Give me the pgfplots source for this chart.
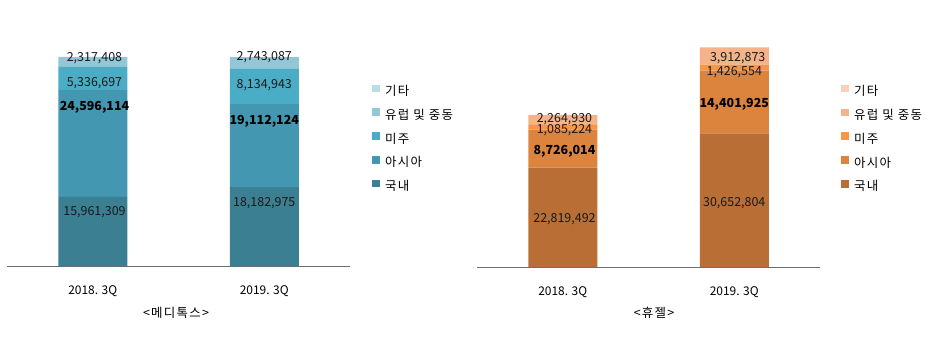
\documentclass[border=0pt]{standalone}
\usepackage{pgfplots}
\pgfplotsset{compat=1.18}
\usepackage{fontspec}
\setmainfont{Noto Sans CJK KR}
\newfontfamily\wide{Noto Sans CJK KR}[LetterSpace=10]
\definecolor{a1}{HTML}{3A7F92}
\definecolor{a2}{HTML}{4397B0}
\definecolor{a3}{HTML}{4BACC6}
\definecolor{a4}{HTML}{93C6D6}
\definecolor{a5}{HTML}{B7DDE8}
\definecolor{b1}{HTML}{B86E34}
\definecolor{b2}{HTML}{DC843E}
\definecolor{b3}{HTML}{F79646}
\definecolor{b4}{HTML}{F5B38A}
\definecolor{b5}{HTML}{FAD0BC}
\pgfplotsset{
  panel/.style={
    clip=false,
    scale only axis, width=343bp,
    ybar stacked, bar width=69bp,
    ymin=0, ymax=54.4e6, xmin=-0.5, xmax=1.5,
    enlargelimits=false,
    axis x line=bottom, axis y line=none,
    x axis line style={-, draw=gray!85!black, line width=0.8pt},
    xtick={0,1}, xticklabels={2018. 3Q, 2019. 3Q},
    major tick length=0pt, ytick=\empty,
    xticklabel style={font=\fontsize{12}{14}\selectfont, anchor=center, yshift=-25bp},
    reverse legend,
    legend cell align=left,
    legend image code/.code={\fill[##1] (0bp,-1bp) rectangle (7.5bp,6.5bp); \path (11bp,0bp);},
    legend style={draw=none, fill=none, inner sep=0pt, anchor=north west,
      font=\fontsize{12.5}{14}\selectfont\wide, row sep=8bp},
  },
}
\tikzset{lab/.style={font=\fontsize{12.5}{14}\selectfont, text=black!90},
  blab/.style={font=\fontsize{12.5}{14}\selectfont\bfseries, text=black}}
\begin{document}
\begin{tikzpicture}[x=1bp,y=1bp]
\useasboundingbox (0,0) rectangle (939,337);
% ---------- left panel
\begin{axis}[panel, at={(7bp,71bp)}, anchor=south west, height=236bp,
  legend style={at={(1.064,0.775)}},
  after end axis/.code={
    \node[lab] at (axis cs:0.01,47.93e6) {2,317,408};
    \node[lab] at (axis cs:0.01,42.17e6) {5,336,697};
    \node[blab] at (axis cs:0.01,36.64e6) {24,596,114};
    \node[lab] at (axis cs:0.01,12.44e6) {15,961,309};
    \node[lab] at (axis cs:1,48.16e6) {2,743,087};
    \node[lab] at (axis cs:1,41.71e6) {8,134,943};
    \node[blab] at (axis cs:1,33.41e6) {19,112,124};
    \node[lab] at (axis cs:1,14.52e6) {18,182,975};
  }]
\addplot[fill=a1, draw=none] coordinates {(0,15961309) (1,18182975)};
\addplot[fill=a2, draw=none] coordinates {(0,24596114) (1,19112124)};
\addplot[fill=a3, draw=none] coordinates {(0,5336697) (1,8134943)};
\addplot[fill=a4, draw=none] coordinates {(0,2317408) (1,2743087)};
\addplot[fill=a5, draw=none] coordinates {(0,0) (1,0)};
\legend{국내,아시아,미주,유럽 및 중동,기타}
\end{axis}
% ---------- right panel
\begin{axis}[panel, at={(477bp,70bp)}, anchor=south west, height=237bp,
  legend style={at={(1.061,0.775)}},
  after end axis/.code={
    \node[lab] at (axis cs:0.01,34.02e6) {2,264,930};
    \node[lab] at (axis cs:0.01,31.49e6) {1,085,224};
    \node[blab] at (axis cs:0.01,26.67e6) {8,726,014};
    \node[lab] at (axis cs:0.01,11.03e6) {22,819,492};
    \node[lab] at (axis cs:1.02,48.05e6) {3,912,873};
    \node[lab] at (axis cs:1.0,44.83e6) {1,426,554};
    \node[blab] at (axis cs:1,37.24e6) {14,401,925};
    \node[lab] at (axis cs:1,14.71e6) {30,652,804};
  }]
\addplot[fill=b1, draw=none] coordinates {(0,22819492) (1,30652804)};
\addplot[fill=b2, draw=none] coordinates {(0,8726014) (1,14401925)};
\addplot[fill=b3, draw=none] coordinates {(0,1085224) (1,1426554)};
\addplot[fill=b4, draw=none] coordinates {(0,2264930) (1,3912873)};
\addplot[fill=b5, draw=none] coordinates {(0,0) (1,0)};
\legend{국내,아시아,미주,유럽 및 중동,기타}
\end{axis}
\node[font=\fontsize{12.5}{14}\selectfont\wide] at (176,24) {<메디톡스>};
\node[font=\fontsize{12.5}{14}\selectfont\wide] at (654,24) {<휴젤>};
\end{tikzpicture}
\end{document}
